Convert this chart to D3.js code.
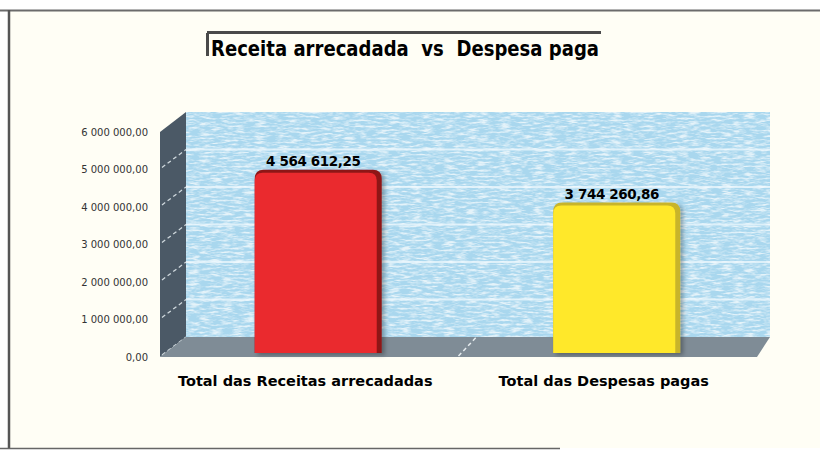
<!DOCTYPE html>
<html>
<head>
<meta charset="utf-8">
<script src="https://cdn.jsdelivr.net/npm/d3@7"></script>
<style>
  html, body { margin: 0; padding: 0; background: #ffffff; }
  svg { display: block; }
</style>
</head>
<body>
<div id="chart"></div>
<script>
// data
var categories = ["Total das Receitas arrecadadas", "Total das Despesas pagas"];
var values = [4564612.25, 3744260.86];
var tickValues = [0, 1000000, 2000000, 3000000, 4000000, 5000000, 6000000];
var title = "Receita arrecadada  vs  Despesa paga";

var options = {
    bgPage: "#fffef5",
    wallBack: "#a9d7ee",
    wallSide: "#4b5966",
    floor: "#7f8c96",
    barFill: ["#ea2a2e", "#ffe82a"],
    barSide: ["#8e1719", "#c8b42c"],
    text: "#111111",
    tickText: "#333333"
};

var W = 820, H = 452;
var depthX = 26, depthY = -20;

var pt = d3.formatLocale({ decimal: ",", thousands: " ", grouping: [3], currency: ["", ""] });
var fmt = pt.format(",.2f");

var svg = d3.select("#chart").append("svg")
    .attr("width", W).attr("height", H);

var defs = svg.append("defs");

// speckled streaks for the back wall
var noise = defs.append("filter").attr("id", "streaks")
    .attr("x", 0).attr("y", 0).attr("width", 1).attr("height", 1);
noise.append("feTurbulence").attr("type", "fractalNoise")
    .attr("baseFrequency", "0.09 0.5").attr("numOctaves", 3).attr("seed", 4).attr("result", "n");
noise.append("feColorMatrix").attr("in", "n").attr("type", "matrix")
    .attr("values", "0 0 0 0 1  0 0 0 0 1  0 0 0 0 1  3.0 0 0 0 -1.25");

var shadow = defs.append("filter").attr("id", "shadow")
    .attr("x", "-20%").attr("y", "-20%").attr("width", "140%").attr("height", "140%");
shadow.append("feDropShadow").attr("dx", 3).attr("dy", 2).attr("stdDeviation", 2)
    .attr("flood-color", "#000").attr("flood-opacity", 0.3);

// page
svg.append("rect").attr("x", 9).attr("y", 10).attr("width", W - 9).attr("height", 438)
    .attr("fill", options.bgPage);
svg.append("line").attr("x1", 0).attr("x2", W).attr("y1", 10.5).attr("y2", 10.5)
    .attr("stroke", "#6b6b6b").attr("stroke-width", 2);
svg.append("line").attr("x1", 9).attr("x2", 9).attr("y1", 10).attr("y2", 449)
    .attr("stroke", "#555").attr("stroke-width", 2.5);
svg.append("line").attr("x1", 0).attr("x2", 560).attr("y1", 448.5).attr("y2", 448.5)
    .attr("stroke", "#666").attr("stroke-width", 1.5);

// title
svg.append("rect").attr("x", 207).attr("y", 31).attr("width", 394).attr("height", 3)
    .attr("fill", "#4a4a4a");
svg.append("rect").attr("x", 206).attr("y", 33).attr("width", 3).attr("height", 23)
    .attr("fill", "#4a4a4a");
svg.append("text")
    .attr("x", 211).attr("y", 56)
    .attr("textLength", 388).attr("lengthAdjust", "spacingAndGlyphs")
    .attr("font-family", "'DejaVu Sans', sans-serif").attr("font-weight", "bold")
    .attr("font-size", 21).attr("fill", "#000")
    .style("white-space", "pre")
    .text(title);

// scales
var x = d3.scaleBand().domain(categories).range([160, 757]).paddingInner(0).paddingOuter(0);
var yFront = d3.scaleLinear().domain([0, 6000000]).range([357, 132]);
var yBack = d3.scaleLinear().domain([0, 6000000]).range([357 + depthY, 132 + depthY]);
var yBar = d3.scaleLinear().domain([0, 6000000]).range([353, 112]);

var x0 = 160, x1 = 757;

// back wall
var wall = svg.append("g");
wall.append("rect")
    .attr("x", x0 + depthX).attr("y", yBack(6000000))
    .attr("width", x1 + 13 - (x0 + depthX)).attr("height", yBack(0) - yBack(6000000))
    .attr("fill", options.wallBack);
wall.append("rect")
    .attr("x", x0 + depthX).attr("y", yBack(6000000))
    .attr("width", x1 + 13 - (x0 + depthX)).attr("height", yBack(0) - yBack(6000000))
    .attr("filter", "url(#streaks)").attr("opacity", 0.7);

// gridlines on back wall
wall.selectAll("line.grid")
    .data(tickValues.slice(1, -1))
    .enter().append("line")
    .attr("class", "grid")
    .attr("x1", x0 + depthX).attr("x2", x1 + 13)
    .attr("y1", function(d) { return yBack(d); })
    .attr("y2", function(d) { return yBack(d); })
    .attr("stroke", "#f4fbff").attr("stroke-width", 2).attr("opacity", 0.7);

// side wall
svg.append("path")
    .attr("d", "M" + x0 + "," + yFront(0) +
               "L" + x0 + "," + yFront(6000000) +
               "L" + (x0 + depthX) + "," + yBack(6000000) +
               "L" + (x0 + depthX) + "," + yBack(0) + "Z")
    .attr("fill", options.wallSide);

svg.selectAll("line.sidegrid")
    .data(tickValues.slice(0, -1))
    .enter().append("line")
    .attr("class", "sidegrid")
    .attr("x1", x0 + 2).attr("x2", x0 + depthX)
    .attr("y1", function(d) { return yFront(d) - 2; })
    .attr("y2", function(d) { return yBack(d); })
    .attr("stroke", "#cfd8dd").attr("stroke-width", 1.3)
    .attr("stroke-dasharray", "4,3");

// floor
svg.append("path")
    .attr("d", "M" + x0 + "," + yFront(0) +
               "L" + (x0 + depthX) + "," + yBack(0) +
               "L" + (x1 + 13) + "," + yBack(0) +
               "L" + x1 + "," + yFront(0) + "Z")
    .attr("fill", options.floor);
svg.append("line")
    .attr("x1", x(categories[1])).attr("y1", yFront(0) - 1)
    .attr("x2", x(categories[1]) + 18).attr("y2", yBack(0))
    .attr("stroke", "#e6ecef").attr("stroke-width", 1.5).attr("stroke-dasharray", "4,3");

// tick labels
svg.selectAll("text.tick")
    .data(tickValues)
    .enter().append("text")
    .attr("class", "tick")
    .attr("x", 148)
    .attr("y", function(d) { return yFront(d) + 3.5; })
    .attr("text-anchor", "end")
    .attr("font-family", "'DejaVu Sans', sans-serif").attr("font-size", 10)
    .attr("fill", options.tickText)
    .text(function(d) { return fmt(d); });

// bars
var barW = 127;
function roundedTop(left, right, top, bottom, r) {
    return "M" + left + "," + bottom +
           "L" + left + "," + (top + r) +
           "Q" + left + "," + top + " " + (left + r) + "," + top +
           "L" + (right - r) + "," + top +
           "Q" + right + "," + top + " " + right + "," + (top + r) +
           "L" + right + "," + bottom + "Z";
}
function barCenter(d, i) { return x(categories[i]) + x.bandwidth() / 2 + 9; }

var bars = svg.selectAll("g.bar")
    .data(values)
    .enter().append("g")
    .attr("class", "bar")
    .attr("filter", "url(#shadow)");

bars.append("path")
    .attr("d", function(d, i) {
        var cx = barCenter(d, i);
        return roundedTop(cx - barW / 2, cx + barW / 2, yBar(d), yBar(0), 9);
    })
    .attr("fill", function(d, i) { return options.barSide[i]; });
bars.append("path")
    .attr("d", function(d, i) {
        var cx = barCenter(d, i);
        return roundedTop(cx - barW / 2, cx + barW / 2 - 5, yBar(d) + 3, yBar(0), 8);
    })
    .attr("fill", function(d, i) { return options.barFill[i]; });

// value labels
svg.selectAll("text.value")
    .data(values)
    .enter().append("text")
    .attr("class", "value")
    .attr("x", function(d, i) { return barCenter(d, i) - 5; })
    .attr("y", function(d) { return yBar(d) - 4; })
    .attr("text-anchor", "middle")
    .attr("font-family", "'DejaVu Sans', sans-serif").attr("font-weight", "bold")
    .attr("font-size", 13.5).attr("letter-spacing", -0.4)
    .attr("fill", "#000")
    .text(function(d) { return fmt(d); });

// category labels
svg.selectAll("text.cat")
    .data(categories)
    .enter().append("text")
    .attr("class", "cat")
    .attr("x", function(d) { return x(d) + x.bandwidth() / 2 - 4; })
    .attr("y", 386)
    .attr("text-anchor", "middle")
    .attr("font-family", "'DejaVu Sans', sans-serif").attr("font-weight", "bold")
    .attr("font-size", 14.5)
    .attr("fill", "#000")
    .text(function(d) { return d; });
</script>
</body>
</html>
